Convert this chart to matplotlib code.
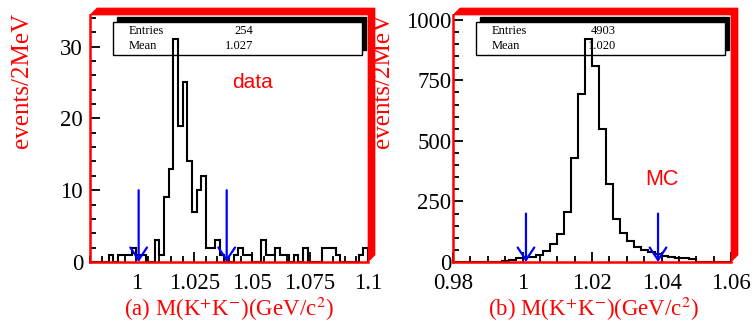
import numpy as np
import matplotlib
matplotlib.use("Agg")
import matplotlib.pyplot as plt
from matplotlib.patches import Polygon, Rectangle
from matplotlib.ticker import FixedLocator, MultipleLocator

plt.rcParams['font.family'] = 'Liberation Serif'
plt.rcParams['mathtext.fontset'] = 'stix'

# M(K+K-) histograms, 2 MeV bins
data_range = (0.98, 1.10)
data_counts = [0, 0, 0, 0, 1, 0, 1, 1, 1, 2,
               1, 1, 0, 0, 3, 1, 9, 13, 31, 19,
               25, 14, 7, 10, 12, 2, 2, 3, 1, 0,
               0, 1, 2, 1, 1, 0, 0, 3, 1, 1,
               2, 1, 1, 0, 1, 0, 2, 0, 0, 0,
               2, 2, 2, 1, 0, 0, 0, 0, 1, 2]
mc_range = (0.98, 1.06)
mc_counts = [0, 0, 0, 0, 0, 0, 0, 4, 10, 17,
             20, 22, 27, 46, 76, 114, 206, 430, 692, 921,
             811, 550, 323, 179, 120, 86, 62, 50, 40, 33,
             24, 19, 17, 16, 14, 0, 0, 0, 0, 0]

# mass window cuts
cuts = [1.001, 1.039]
data_arrow_top = 10
mc_arrow_top = 200

data_stats = ["254", "1.027"]
mc_stats = ["4903", "1.020"]

data_xticks = [1.0, 1.025, 1.05, 1.075, 1.1]
data_xticklabels = ["1", "1.025", "1.05", "1.075", "1.1"]
mc_xticks = [0.98, 1.0, 1.02, 1.04, 1.06]
mc_xticklabels = ["0.98", "1", "1.02", "1.04", "1.06"]

W, H = 756, 324
fig = plt.figure(figsize=(W / 100, H / 100), dpi=100)


def px_axes(x0, x1, ytop, ybot):
    return [x0 / W, 1 - ybot / H, (x1 - x0) / W, (ybot - ytop) / H]


def panel(ax, rng, counts, ymax, ymaj, ymin, xticks, xticklabels,
          stats, arrow_top, ypad):
    edges = np.linspace(rng[0], rng[1], len(counts) + 1)
    ax.stairs(counts, edges, color='black', lw=1.5, baseline=0, zorder=3)
    ax.set_xlim(rng)
    ax.set_ylim(0, ymax)

    for s in ['top', 'right']:
        ax.spines[s].set_visible(False)
    for s in ['left', 'bottom']:
        ax.spines[s].set_color('red')
        ax.spines[s].set_linewidth(1.8)
        ax.spines[s].set_zorder(4)

    # thick bevelled frame edge on top and right
    bb = ax.get_position()
    bx = 7 / (bb.width * W)
    by = 7 / (bb.height * H)
    ax.add_patch(Polygon([(0, 1), (bx, 1 + by), (1 + bx, 1 + by),
                          (1 + bx, by), (1, 0), (1, 1)],
                         closed=True, transform=ax.transAxes, fc='red',
                         ec='red', lw=0.5, clip_on=False, zorder=4))

    ax.xaxis.set_major_locator(FixedLocator(xticks))
    ax.set_xticklabels(xticklabels)
    ax.xaxis.set_minor_locator(MultipleLocator(0.005))
    ax.yaxis.set_major_locator(MultipleLocator(ymaj))
    ax.yaxis.set_minor_locator(MultipleLocator(ymin))
    ax.tick_params(which='major', direction='in', length=7, width=1.3,
                   labelsize=16.5, top=False, right=False)
    ax.tick_params(which='minor', direction='in', length=4, width=1.3,
                   top=False, right=False)
    ax.tick_params(axis='x', pad=8)
    ax.tick_params(axis='y', pad=ypad)

    # stats box with shadow
    sx = 4 / (bb.width * W)
    sy = 5 / (bb.height * H)
    ax.add_patch(Rectangle((0.083 + sx, 0.838 + sy), 0.895, 0.134,
                           transform=ax.transAxes, fc='black', ec='black',
                           lw=1, clip_on=False, zorder=1.8))
    ax.add_patch(Rectangle((0.083, 0.838), 0.895, 0.134,
                           transform=ax.transAxes, fc='white', ec='black',
                           lw=1, clip_on=False, zorder=1.9))
    ax.text(0.14, 0.935, "Entries", transform=ax.transAxes, fontsize=9,
            va='center', ha='left', zorder=2)
    ax.text(0.14, 0.874, "Mean", transform=ax.transAxes, fontsize=9,
            va='center', ha='left', zorder=2)
    ax.text(0.586, 0.935, stats[0], transform=ax.transAxes, fontsize=9,
            va='center', ha='right', zorder=2)
    ax.text(0.586, 0.874, stats[1], transform=ax.transAxes, fontsize=9,
            va='center', ha='right', zorder=2)

    for c in cuts:
        ax.annotate('', xy=(c, 0), xytext=(c, arrow_top),
                    arrowprops=dict(arrowstyle='->,head_length=0.9,head_width=0.6',
                                    color='blue', lw=1.6, shrinkA=0, shrinkB=0,
                                    mutation_scale=10),
                    zorder=5, annotation_clip=False)


ax1 = fig.add_axes(px_axes(90, 368, 15, 262))
panel(ax1, data_range, data_counts, 34.4, 10, 2, data_xticks,
      data_xticklabels, data_stats, data_arrow_top, 5)
ax1.text(0.583, 0.725, "data", transform=ax1.transAxes, color='red',
         fontsize=15, family='Liberation Sans', ha='center', va='center')

ax2 = fig.add_axes(px_axes(453, 731, 15, 262))
panel(ax2, mc_range, mc_counts, 1020, 250, 50, mc_xticks,
      mc_xticklabels, mc_stats, mc_arrow_top, 1)
ax2.text(0.752, 0.332, "MC", transform=ax2.transAxes, color='red',
         fontsize=15.5, family='Liberation Sans', ha='center', va='center')

ylab = "events/2MeV"
fig.text(22 / W, 1 - 80 / H, ylab, rotation=90, color='red', fontsize=18,
         ha='center', va='center')
fig.text(383 / W, 1 - 80 / H, ylab, rotation=90, color='red', fontsize=18,
         ha='center', va='center')

fig.text(229 / W, 1 - 309 / H, r"(a) M(K$^{+}$K$^{-}$)(GeV/c$^{2}$)",
         color='red', fontsize=16.5, ha='center', va='center')
fig.text(593 / W, 1 - 309 / H, r"(b) M(K$^{+}$K$^{-}$)(GeV/c$^{2}$)",
         color='red', fontsize=16.5, ha='center', va='center')

fig.savefig("out.png", dpi=100)
